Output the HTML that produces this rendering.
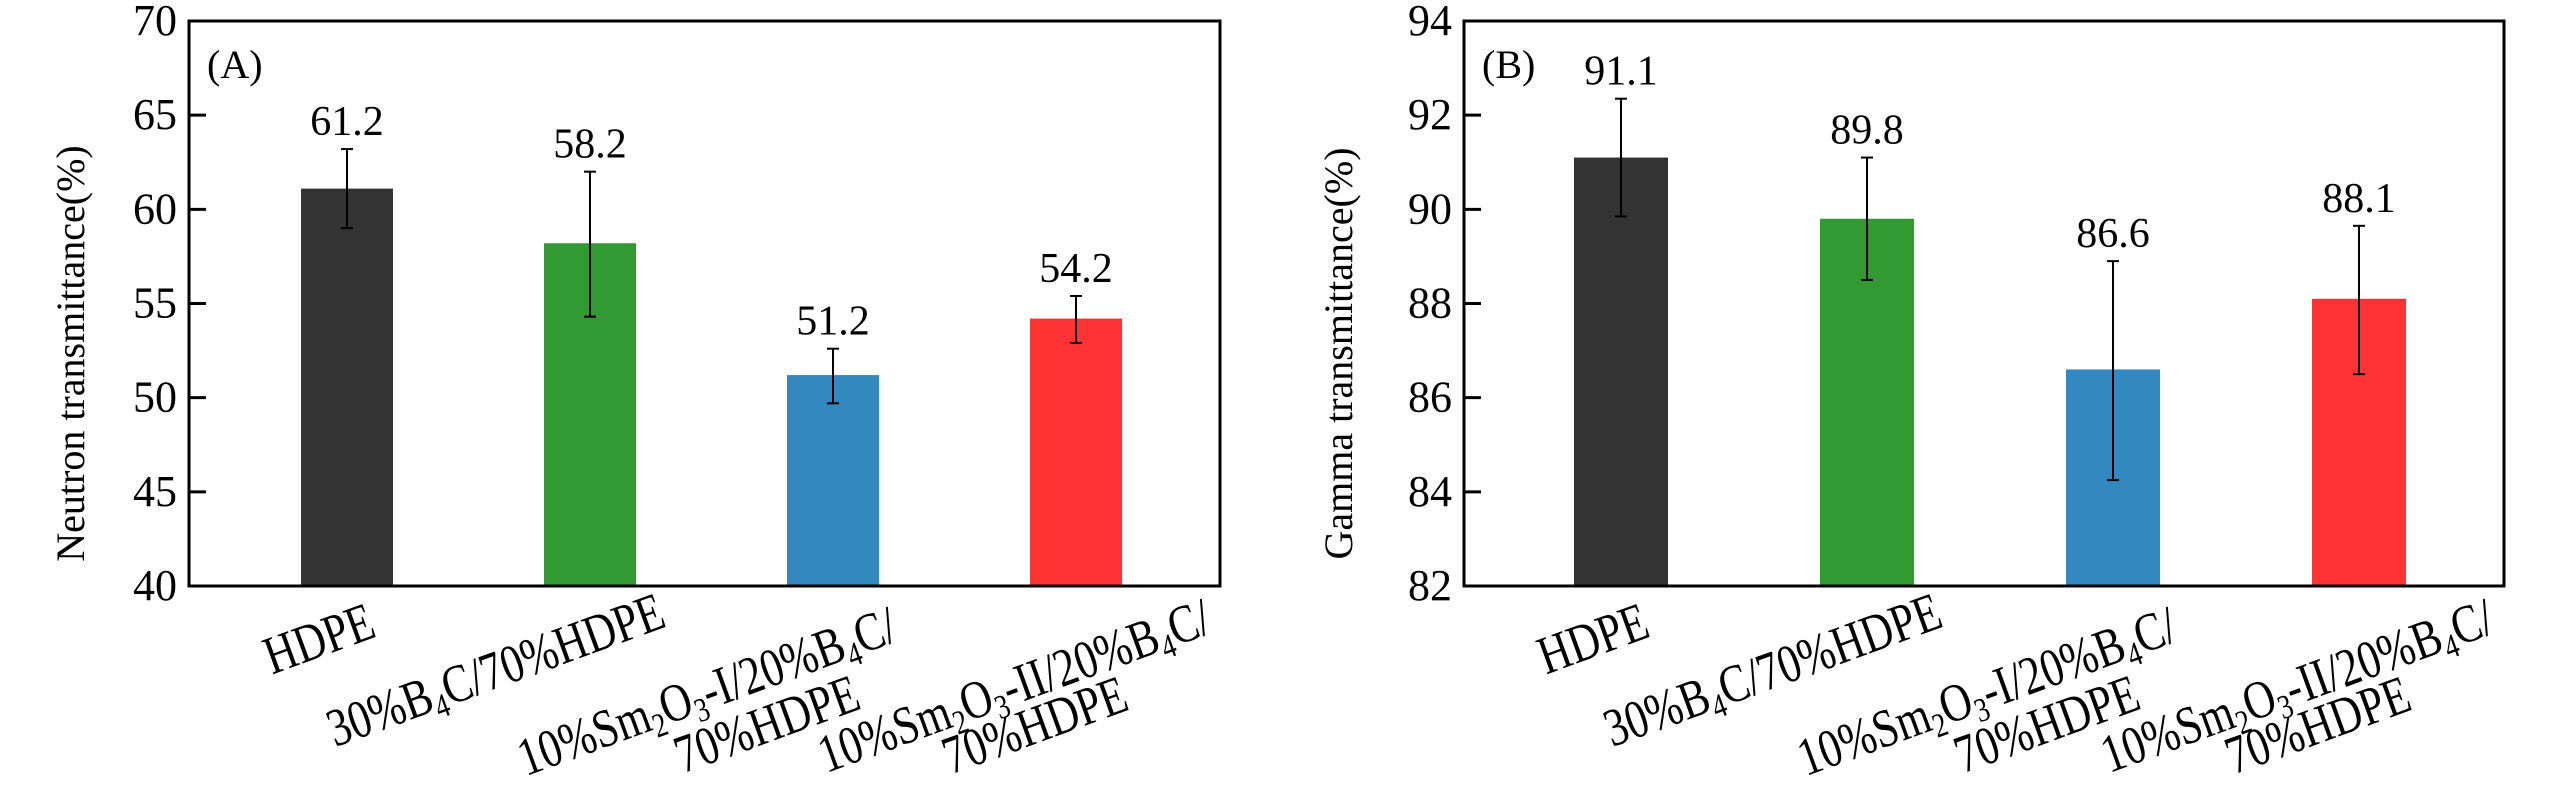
<!DOCTYPE html>
<html><head><meta charset="utf-8"><style>
html,body{margin:0;padding:0;background:#fff}
svg{display:block}
svg text{font-family:"Liberation Serif","Times New Roman",serif;fill:#000}
</style></head><body>
<svg id="s" width="2567" height="787" viewBox="0 0 2567 787" font-family="Liberation Serif, serif"></svg>
<script>
// label lines use segments: [text, isSubscript]
const categories = [
  [[["HDPE",0]]],
  [[["30%B",0],["4",1],["C/70%HDPE",0]]],
  [[["10%Sm",0],["2",1],["O",0],["3",1],["-I/20%B",0],["4",1],["C/",0]],[["70%HDPE",0]]],
  [[["10%Sm",0],["2",1],["O",0],["3",1],["-II/20%B",0],["4",1],["C/",0]],[["70%HDPE",0]]]
];
const neutronValues = [61.1, 58.2, 51.2, 54.2];
const neutronLabels = ["61.2","58.2","51.2","54.2"];
const neutronErrLow = [59.0, 54.3, 49.7, 52.9];
const neutronErrHigh = [63.2, 62.0, 52.6, 55.4];
const neutronTicks = [40,45,50,55,60,65,70];
const gammaValues = [91.1, 89.8, 86.6, 88.1];
const gammaLabels = ["91.1","89.8","86.6","88.1"];
const gammaErrLow = [89.85, 88.5, 84.25, 86.5];
const gammaErrHigh = [92.35, 91.1, 88.9, 89.65];
const gammaTicks = [82,84,86,88,90,92,94];
const colors = ["#333333","#339933","#3388bf","#ff3333"];
// label layout (style, not data): line-end anchor offsets from bar centre
const line1Dx=[31,78,67,138], line1Y=[636,626,640,632];
const line2Dx=[0,0,30,55], line2Y=[0,0,708,709];

const NS="http://www.w3.org/2000/svg";
const svg=document.getElementById('s');
function mk(tag,attrs,parent){const e=document.createElementNS(NS,tag);for(const k in attrs)e.setAttribute(k,attrs[k]);(parent||svg).appendChild(e);return e;}
function fillLine(t,segs){
  let prevSub=false;
  segs.forEach(s=>{
    const a={};
    if(s[1]){a['font-size']=34;a.dy=9;}
    else if(prevSub){a.dy=-9;}
    const ts=mk('tspan',a,t);
    ts.textContent=s[0];
    prevSub=!!s[1];
  });
}
function xLabel(g,ax,ay,segs,name){
  const lg=mk('g',{transform:`translate(${ax},${ay}) rotate(-20) scale(0.8,1)`},g);
  
  
  const t=mk('text',{x:0,y:0,'text-anchor':'end','font-size':54},lg);
  fillLine(t,segs);
}

function panel(cfg){
  const g=mk('g',{});
  
  
  const {L,R,T,B,ymin,ymax,c0,step,bw}=cfg;
  const y=v=>B-(v-ymin)/(ymax-ymin)*(B-T);
  const x=i=>L+c0+step*i;
  cfg.values.forEach((v,i)=>{
    const r=mk('rect',{x:x(i)-bw/2,y:y(v),width:bw,height:B-y(v),fill:colors[i]},g);
    
    
    const eg=mk('g',{stroke:'#000','stroke-width':2},g);
    
    
    mk('line',{x1:x(i),x2:x(i),y1:y(cfg.lo[i]),y2:y(cfg.hi[i])},eg);
    mk('line',{x1:x(i)-6,x2:x(i)+6,y1:y(cfg.lo[i]),y2:y(cfg.lo[i])},eg);
    mk('line',{x1:x(i)-6,x2:x(i)+6,y1:y(cfg.hi[i]),y2:y(cfg.hi[i])},eg);
    const t=mk('text',{x:x(i),y:y(cfg.hi[i])-14,'text-anchor':'middle','font-size':42},g);
    t.textContent=cfg.labels[i];
    
    
    xLabel(g,x(i)+line1Dx[i],line1Y[i],categories[i][0],'x-tick-label-'+i);
    if(categories[i][1]) xLabel(g,x(i)+line2Dx[i],line2Y[i],categories[i][1],'x-tick-label-'+i+'-line2');
  });
  cfg.ticks.forEach(v=>{
    const tl=mk('line',{x1:L,x2:L+17,y1:y(v),y2:y(v),stroke:'#000','stroke-width':3},g);
    
    
    const tt=mk('text',{x:L-12,y:y(v)+14,'text-anchor':'end','font-size':44},g);
    tt.textContent=v;
    
    
  });
  const fr=mk('rect',{x:L,y:T,width:R-L,height:B-T,fill:'none',stroke:'#000','stroke-width':3},g);
  
  
  const ti=mk('text',{transform:`translate(${cfg.titleX},${(T+B)/2+50}) rotate(-90)`,'text-anchor':'middle','font-size':40},g);
  ti.textContent=cfg.title;
  
  
  const pl=mk('text',{x:L+18,y:T+57,'font-size':40},g);
  pl.textContent=cfg.tag;
  
  
}
panel({name:'neutron-chart',L:189,R:1220,T:21,B:586,ymin:40,ymax:70,c0:158,step:243,bw:92,
  values:neutronValues,labels:neutronLabels,lo:neutronErrLow,hi:neutronErrHigh,ticks:neutronTicks,
  title:'Neutron transmittance(%)',titleX:84,tag:'(A)'});
panel({name:'gamma-chart',L:1464,R:2504,T:21,B:586,ymin:82,ymax:94,c0:157,step:246,bw:94,
  values:gammaValues,labels:gammaLabels,lo:gammaErrLow,hi:gammaErrHigh,ticks:gammaTicks,
  title:'Gamma transmittance(%)',titleX:1352,tag:'(B)'});
</script>
</body></html>
